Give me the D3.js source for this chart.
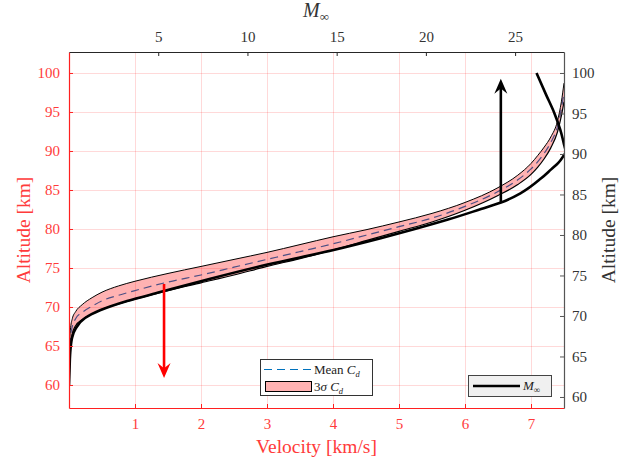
<!DOCTYPE html>
<html>
<head>
<meta charset="utf-8">
<script src="https://cdn.jsdelivr.net/npm/d3@7.9.0/dist/d3.min.js"></script>
<style>
  html, body { margin: 0; padding: 0; background: #fff; }
</style>
</head>
<body>
<svg id="chart" width="633" height="466"></svg>
<script>
// band of altitude vs velocity (left + bottom axes)
const velocity = [0, 0.005, 0.02, 0.05, 0.1, 0.2, 0.35, 0.5, 0.75, 1, 1.5, 2, 2.5, 3, 3.5, 4, 4.5, 5, 5.5, 6, 6.5, 6.8, 7, 7.1, 7.2, 7.3, 7.4, 7.46, 7.5];
const altUpper = [60, 63.5, 67.0, 68.5, 69.4, 70.3, 71.2, 71.9, 72.7, 73.3, 74.3, 75.2, 76.1, 77.0, 78.0, 79.0, 79.9, 80.9, 82.0, 83.4, 85.3, 86.9, 88.4, 89.4, 90.5, 91.8, 93.8, 96.3, 98.7];
const altMean = [60, 62.7, 65.9, 67.5, 68.5, 69.3, 70.1, 70.8, 71.5, 72.1, 73.2, 74.1, 75.1, 76.1, 77.1, 78.1, 79.2, 80.3, 81.4, 82.9, 84.8, 86.3, 87.7, 88.6, 89.7, 91.1, 93.1, 95.4, 97.5];
const altLower = [60, 62.0, 64.8, 66.6, 67.6, 68.4, 69.1, 69.7, 70.4, 71.0, 72.1, 73.1, 74.1, 75.2, 76.2, 77.3, 78.5, 79.7, 80.9, 82.4, 84.3, 85.7, 87.0, 87.9, 89.0, 90.4, 92.4, 94.5, 96.3];

// free-stream Mach vs altitude (top + right axes)
const machAlt = [61.5, 63.3, 65.2, 67.3, 68.5, 69.75, 70.7, 71.85, 72.95, 74.6, 76.35, 78.15, 79.6, 80.7, 81.9, 83.2, 84.0, 85.2, 87.0, 88.1, 88.9, 89.9, 90.2, 91.1, 93.0, 95.1, 97.3, 100];
const mach = [0, 0.03, 0.06, 0.17, 0.39, 0.9, 1.74, 3.26, 5.11, 7.92, 11.12, 14.83, 17.47, 19.33, 21.24, 23.09, 24.21, 25.34, 26.46, 27.02, 27.42, 27.75, 27.84, 27.75, 27.53, 27.19, 26.74, 26.2];

const velTicks = [1, 2, 3, 4, 5, 6, 7];
const altTicks = [60, 65, 70, 75, 80, 85, 90, 95, 100];
const machTicks = [5, 10, 15, 20, 25];

// arrows: [x, from altitude, to altitude]
const velArrow = [1.44, 72.95, 60.9];
const machArrow = [24.2, 84.0, 99.3];

const W = 633, H = 466;
const m = { left: 69, right: 69, top: 52, bottom: 58 };
const FONT = "'Liberation Serif', 'Times New Roman', serif";
const svg = d3.select("#chart");

const x = d3.scaleLinear().domain([0, 7.5]).range([m.left, W - m.right]);
const y = d3.scaleLinear().domain([57.05, 102.69]).range([H - m.bottom, m.top]);
const xTop = d3.scaleLinear().domain([0, 27.74]).range([m.left, W - m.right]);
const yRight = d3.scaleLinear().domain([58.64, 102.59]).range([H - m.bottom, m.top]);

const RED = "#ff2020";
const GRAY = "#262626";

svg.append("defs").append("clipPath").attr("id", "clip")
  .append("rect").attr("x", m.left).attr("y", m.top)
  .attr("width", W - m.left - m.right).attr("height", H - m.top - m.bottom);

// grid
const grid = svg.append("g").attr("stroke", "#ff0000").attr("stroke-opacity", 0.15).attr("stroke-width", 1);
velTicks.forEach(t => grid.append("line")
  .attr("x1", Math.round(x(t)) + 0.5).attr("x2", Math.round(x(t)) + 0.5)
  .attr("y1", m.top).attr("y2", H - m.bottom));
altTicks.forEach(t => grid.append("line")
  .attr("y1", Math.round(y(t)) + 0.5).attr("y2", Math.round(y(t)) + 0.5)
  .attr("x1", m.left).attr("x2", W - m.right));

const plot = svg.append("g").attr("clip-path", "url(#clip)");

const bandPts = velocity.map((v, i) => ({ v, lo: altLower[i], hi: altUpper[i], mean: altMean[i] }));

// mean line (under the translucent band)
plot.append("path")
  .attr("d", d3.line().x(d => x(d.v)).y(d => y(d.mean)).curve(d3.curveMonotoneX)(bandPts))
  .attr("fill", "none").attr("stroke", "#0072bd").attr("stroke-width", 1.2)
  .attr("stroke-dasharray", "8,5");

plot.append("path")
  .attr("d", d3.area().x(d => x(d.v)).y0(d => y(d.lo)).y1(d => y(d.hi)).curve(d3.curveMonotoneX)(bandPts))
  .attr("fill", "#ff0000").attr("fill-opacity", 0.3);

plot.append("path")
  .attr("d", d3.line().x(d => x(d.v)).y(d => y(d.hi)).curve(d3.curveMonotoneX)(bandPts))
  .attr("fill", "none").attr("stroke", "#000").attr("stroke-width", 1);
plot.append("path")
  .attr("d", d3.line().x(d => x(d.v)).y(d => y(d.lo)).curve(d3.curveMonotoneX)(bandPts))
  .attr("fill", "none").attr("stroke", "#000").attr("stroke-width", 1.2);

// Mach curve
const machPts = machAlt.map((a, i) => ({ a, m: mach[i] }));
plot.append("path")
  .attr("d", d3.line().x(d => xTop(d.m)).y(d => yRight(d.a)).curve(d3.curveMonotoneY)(machPts))
  .attr("fill", "none").attr("stroke", "#000").attr("stroke-width", 2.6);

// arrows
function arrow(x0, y0, y1, color) {
  const dir = y1 > y0 ? 1 : -1;
  const headL = 15, headW = 6.5;
  svg.append("line").attr("x1", x0).attr("x2", x0).attr("y1", y0).attr("y2", y1 - dir * headL * 0.6)
    .attr("stroke", color).attr("stroke-width", 2.6);
  svg.append("path")
    .attr("d", `M${x0},${y1} L${x0 - headW},${y1 - dir * headL} L${x0},${y1 - dir * headL * 0.65} L${x0 + headW},${y1 - dir * headL} Z`)
    .attr("fill", color);
}
arrow(x(velArrow[0]), y(velArrow[1]), y(velArrow[2]), "#ff0000");
arrow(xTop(machArrow[0]), yRight(machArrow[1]), yRight(machArrow[2]), "#000");

// axes
const fs = 15;
const axBottom = svg.append("g").attr("transform", `translate(0,${H - m.bottom})`)
  .call(d3.axisBottom(x).tickValues(velTicks).tickSizeInner(-4).tickSizeOuter(0).tickPadding(10));
const axLeft = svg.append("g").attr("transform", `translate(${m.left},0)`)
  .call(d3.axisLeft(y).tickValues(altTicks).tickSizeInner(-4).tickSizeOuter(0).tickPadding(9));
const axTop = svg.append("g").attr("transform", `translate(0,${m.top})`)
  .call(d3.axisTop(xTop).tickValues(machTicks).tickSizeInner(-4).tickSizeOuter(0).tickPadding(10));
const axRight = svg.append("g").attr("transform", `translate(${W - m.right},0)`)
  .call(d3.axisRight(yRight).tickValues(altTicks).tickSizeInner(-4).tickSizeOuter(0).tickPadding(8));

[[axBottom, RED], [axLeft, RED], [axTop, GRAY], [axRight, "#555"]].forEach(([g, c]) => {
  g.attr("font-family", null);
  g.select(".domain").attr("stroke", c).attr("stroke-width", 1.2);
  g.selectAll(".tick line").attr("stroke", c);
  g.selectAll(".tick text").attr("fill", c === RED ? "#ff3b3b" : "#333")
    .style("font-size", fs + "px");
});

// axis titles
svg.append("text").attr("x", (m.left + W - m.right) / 2).attr("y", 453)
  .attr("text-anchor", "middle").attr("fill", "#ff3b3b").style("font-size", "19.5px")
  .text("Velocity [km/s]");
svg.append("text").attr("transform", `translate(30,${(m.top + H - m.bottom) / 2}) rotate(-90)`)
  .attr("text-anchor", "middle").attr("fill", "#ff3b3b").style("font-size", "19.5px")
  .text("Altitude [km]");
svg.append("text").attr("transform", `translate(615,${(m.top + H - m.bottom) / 2}) rotate(-90)`)
  .attr("text-anchor", "middle").attr("fill", "#333").style("font-size", "19.5px")
  .text("Altitude [km]");
const mt = svg.append("text").attr("x", 303).attr("y", 17).attr("fill", "#333").style("font-size", "20px");
mt.append("tspan").style("font-style", "italic").text("M");
mt.append("tspan").attr("dy", 4).style("font-size", "13px").text("∞");

// legend 1
const lg = svg.append("g");
lg.append("rect").attr("x", 260.5).attr("y", 359.5).attr("width", 112).attr("height", 36)
  .attr("fill", "#fff").attr("stroke", "#333").attr("stroke-width", 1);
lg.append("line").attr("x1", 264).attr("x2", 312).attr("y1", 369.5).attr("y2", 369.5)
  .attr("stroke", "#0072bd").attr("stroke-width", 1.2).attr("stroke-dasharray", "8,5");
lg.append("rect").attr("x", 265.5).attr("y", 381.5).attr("width", 46).attr("height", 10)
  .attr("fill", "#ff0000").attr("fill-opacity", 0.3).attr("stroke", "#000").attr("stroke-width", 1);
const t1 = lg.append("text").attr("x", 314).attr("y", 373.5).attr("fill", "#222").style("font-size", "13px");
t1.append("tspan").text("Mean ");
t1.append("tspan").style("font-style", "italic").text("C");
t1.append("tspan").attr("dy", 3).style("font-style", "italic").style("font-size", "8.5px").text("d");
const t2 = lg.append("text").attr("x", 314).attr("y", 391).attr("fill", "#222").style("font-size", "13px");
t2.append("tspan").text("3");
t2.append("tspan").style("font-style", "italic").text("σ ");
t2.append("tspan").style("font-style", "italic").text("C");
t2.append("tspan").attr("dy", 3).style("font-style", "italic").style("font-size", "8.5px").text("d");

// legend 2
const lg2 = svg.append("g");
lg2.append("rect").attr("x", 468.5).attr("y", 375.5).attr("width", 83).attr("height", 21)
  .attr("fill", "#f0f0f0").attr("stroke", "#444").attr("stroke-width", 1);
lg2.append("line").attr("x1", 473).attr("x2", 520).attr("y1", 386).attr("y2", 386)
  .attr("stroke", "#000").attr("stroke-width", 2.6);
const t3 = lg2.append("text").attr("x", 523).attr("y", 390).attr("fill", "#222").style("font-size", "13px");
t3.append("tspan").style("font-style", "italic").text("M");
t3.append("tspan").attr("dy", 3).style("font-size", "9px").text("∞");

// serif everywhere
svg.selectAll("text").attr("font-family", FONT).style("font-family", FONT);
</script>
</body>
</html>
